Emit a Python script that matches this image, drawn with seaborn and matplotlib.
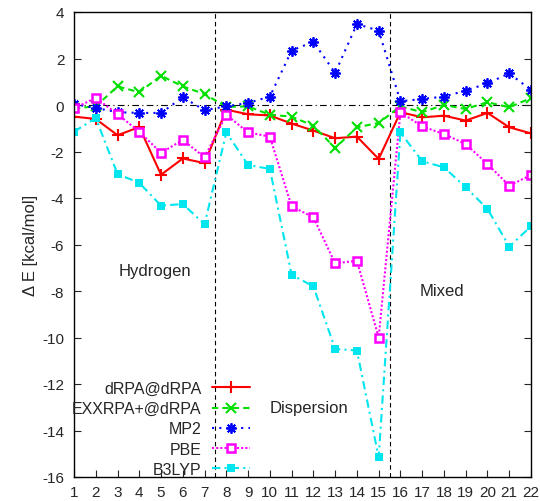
import numpy as np
import pandas as pd
import matplotlib
matplotlib.use("Agg")
import matplotlib.pyplot as plt
import seaborn as sns

systems = list(range(1, 23))
drpa = [-0.5, -0.6, -1.3, -0.95, -3.0, -2.3, -2.5, -0.2, -0.4, -0.45, -0.8, -1.1,
        -1.43, -1.36, -2.32, -0.31, -0.53, -0.46, -0.67, -0.34, -0.96, -1.22]
exxrpa = [-0.14, -0.06, 0.8, 0.55, 1.26, 0.8, 0.47, -0.08, -0.06, -0.42, -0.5, -0.89,
          -1.85, -0.96, -0.77, -0.06, -0.31, 0.0, -0.17, 0.12, -0.1, 0.3]
mp2 = [0.04, -0.13, -0.31, -0.34, -0.34, 0.33, -0.22, -0.06, 0.09, 0.36, 2.34, 2.72,
       1.38, 3.48, 3.2, 0.16, 0.26, 0.36, 0.62, 0.93, 1.36, 0.65]
pbe = [-0.14, 0.3, -0.39, -1.15, -2.06, -1.5, -2.25, -0.42, -1.18, -1.36, -4.36, -4.83,
       -6.81, -6.7, -10.0, -0.31, -0.92, -1.25, -1.68, -2.54, -3.47, -3.01]
b3lyp = [-1.15, -0.56, -2.97, -3.35, -4.33, -4.26, -5.13, -1.18, -2.58, -2.75, -7.3, -7.8,
         -10.49, -10.56, -15.15, -1.18, -2.42, -2.68, -3.54, -4.47, -6.09, -5.22]
series_names = ["dRPA@dRPA", "EXXRPA+@dRPA", "MP2", "PBE", "B3LYP"]
yticks = [4, 2, 0, -2, -4, -6, -8, -10, -12, -14, -16]
group_labels = ["Hydrogen", "Dispersion", "Mixed"]
group_bounds = [7.5, 15.5]

sns.set_style("ticks")
plt.rcParams["font.family"] = ["Liberation Sans", "DejaVu Sans"]
plt.rcParams["axes.unicode_minus"] = False
plt.rcParams["xtick.direction"] = "in"
plt.rcParams["ytick.direction"] = "in"

fig = plt.figure(figsize=(5.4, 5.02), dpi=100)
ax = fig.add_axes([74 / 540, 24 / 502, 457 / 540, 465 / 502])

styles = [
    dict(color="#ff0000", linestyle="-", marker="+", markersize=8, markeredgewidth=1.5,
         markeredgecolor="#ff0000"),
    dict(color="#00e000", linestyle=(0, (3, 2)), marker="x", markersize=6.5, markeredgewidth=1.5,
         markeredgecolor="#00e000"),
    dict(color="#0000ff", linestyle=(0, (1, 2.5)), marker=(8, 2, 0), markersize=7.5,
         markeredgewidth=1.3, markeredgecolor="#0000ff"),
    dict(color="#ff00ff", linestyle=(0, (1, 1)), marker="s", markersize=5.5,
         markerfacecolor="white", markeredgewidth=1.8, markeredgecolor="#ff00ff"),
    dict(color="#00e5ee", linestyle=(0, (4, 2, 1, 2)), marker="s", markersize=6,
         markeredgewidth=0, markeredgecolor="#00e5ee"),
]
data = [drpa, exxrpa, mp2, pbe, b3lyp]
for name, vals, st in zip(series_names, data, styles):
    df = pd.DataFrame({"x": systems, "y": vals})
    sns.lineplot(data=df, x="x", y="y", ax=ax, label=name, linewidth=1.5, **st)

ax.axhline(0, color="black", linestyle=(0, (6, 3, 1, 3)), linewidth=0.8, zorder=0)
for b in group_bounds:
    ax.axvline(b, color="black", linestyle=(0, (4, 3)), linewidth=0.8, zorder=0)

ax.text(4.7, -7.1, group_labels[0], ha="center", va="center", fontsize=12)
ax.text(11.8, -13.0, group_labels[1], ha="center", va="center", fontsize=12)
ax.text(17.9, -8.0, group_labels[2], ha="center", va="center", fontsize=12)

ax.set_xlim(1, 22)
ax.set_ylim(-16, 4)
ax.set_xticks(systems)
ax.set_xticklabels([str(s) for s in systems])
ax.set_yticks(yticks)
ax.set_yticklabels([str(t) for t in yticks])
ax.tick_params(axis="both", labelsize=11, length=5, width=0.8, right=True, top=False)
ax.tick_params(axis="x", pad=6)
ax.tick_params(axis="y", pad=7)
ax.set_xlabel("")
ax.set_ylabel("Δ E [kcal/mol]", fontsize=12, labelpad=3)
for s in ax.spines.values():
    s.set_visible(True)
    s.set_linewidth(1.0)
    s.set_color("black")

leg = ax.legend(loc="lower right", bbox_to_anchor=(0.385, 0.0), frameon=False,
                markerfirst=False, fontsize=11.5, handlelength=2.4, handletextpad=0.62,
                labelspacing=0.33, borderpad=0.0, borderaxespad=0.0)

fig.savefig("out.png", dpi=100)
